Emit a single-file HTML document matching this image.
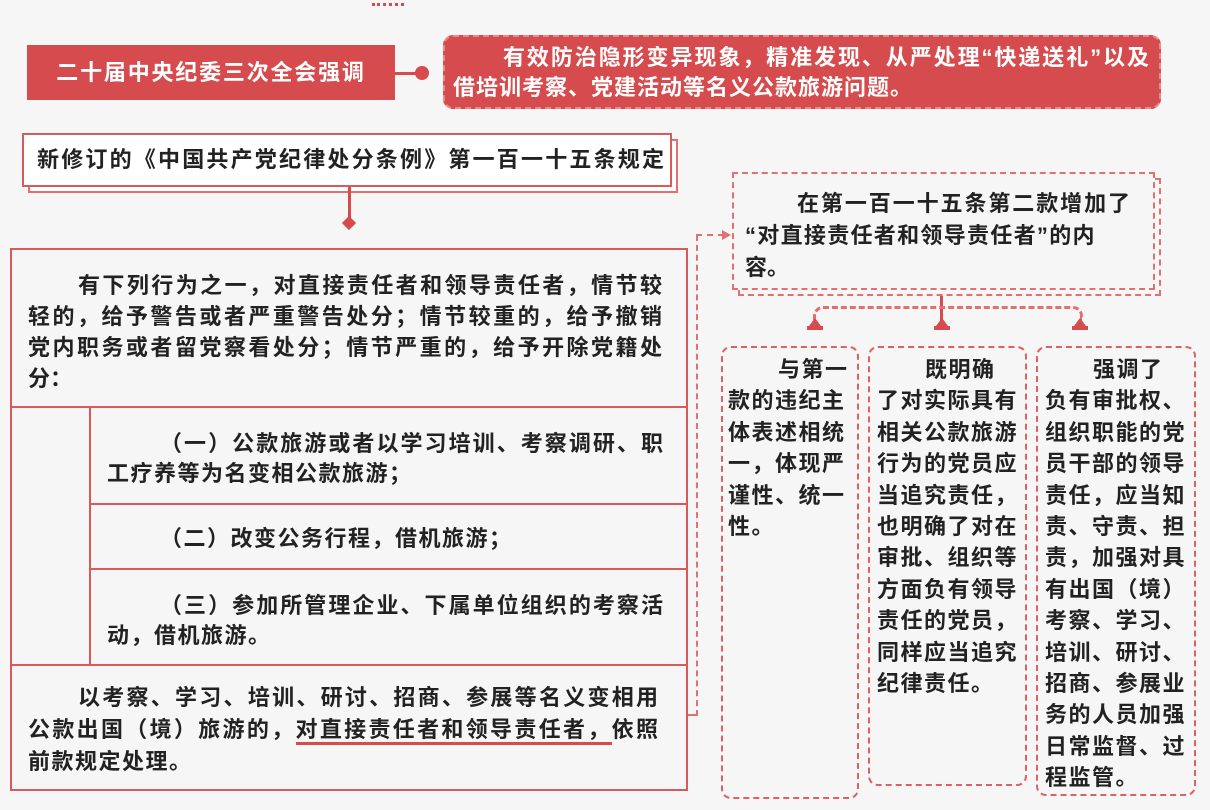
<!DOCTYPE html>
<html><head><meta charset="utf-8"><style>
*{margin:0;padding:0;box-sizing:border-box}
body{width:1210px;height:810px;background:#f6f6f6;position:relative;overflow:hidden;font-family:"Liberation Sans","Noto Sans CJK SC",sans-serif;font-weight:bold;color:#222}
.a{position:absolute}
.red{background:#d64b4d;color:#fff}
.cell{position:absolute;border:2px solid #d95a5c;font-size:22px;line-height:31px}
.col{position:absolute;border:2px dashed #df6062;border-radius:10px;font-size:22px;line-height:31.4px}
.j{text-align:justify;text-align-last:justify;white-space:nowrap}
.l{white-space:nowrap}
.txt{position:absolute}
</style></head><body>
<div class="a" style="left:372px;top:3px;width:32px;height:3px;border-top:3px dotted #d64b4d"></div>

<div class="a red" style="left:27px;top:45px;width:368px;height:55px;font-size:22px;line-height:55px;text-align:center;letter-spacing:1.8px">二十届中央纪委三次全会强调</div>
<div class="a" style="left:395px;top:72px;width:24px;height:3px;background:#d64b4d"></div>
<div class="a" style="left:415px;top:66px;width:14px;height:14px;border-radius:50%;background:#d64b4d"></div>
<div class="a red" style="left:443px;top:35px;width:718px;height:74px;border-radius:10px;border:2px dashed #e88a8b;font-size:22px;line-height:30px">
<div class="txt j" style="left:58px;top:6px;width:646px">有效防治隐形变异现象，精准发现、从严处理“快递送礼”以及</div>
<div class="txt l" style="left:8px;top:36px;letter-spacing:1px">借培训考察、党建活动等名义公款旅游问题。</div>
</div>

<div class="a" style="left:28px;top:139px;width:650px;height:54px;border:2px solid #e07072;background:#fff"></div>
<div class="a" style="left:22px;top:133px;width:650px;height:54px;border:2px solid #d95a5c;background:#fff;font-size:22px;line-height:50px">
<div class="txt j" style="left:13px;top:0;width:627px">新修订的《中国共产党纪律处分条例》第一百一十五条规定</div></div>
<div class="a" style="left:348px;top:187px;width:3px;height:32px;background:#d64b4d"></div>
<div class="a" style="left:344px;top:218px;width:10px;height:10px;background:#d64b4d;transform:rotate(45deg)"></div>

<div class="cell" style="left:10px;top:248px;width:678px;height:160px">
<div class="txt j" style="left:66px;top:20px;width:584px">有下列行为之一，对直接责任者和领导责任者，情节较</div>
<div class="txt j" style="left:16px;top:51px;width:634px">轻的，给予警告或者严重警告处分；情节较重的，给予撤销</div>
<div class="txt j" style="left:16px;top:82px;width:634px">党内职务或者留党察看处分；情节严重的，给予开除党籍处</div>
<div class="txt l" style="left:16px;top:113px">分：</div>
</div>
<div class="cell" style="left:10px;top:406px;width:81px;height:260px"></div>
<div class="cell" style="left:89px;top:406px;width:599px;height:99px">
<div class="txt j" style="left:69px;top:20px;width:503px">（一）公款旅游或者以学习培训、考察调研、职</div>
<div class="txt l" style="left:16px;top:50px;letter-spacing:1.5px">工疗养等为名变相公款旅游；</div>
</div>
<div class="cell" style="left:89px;top:503px;width:599px;height:67px">
<div class="txt l" style="left:69px;top:18px;letter-spacing:1.5px">（二）改变公务行程，借机旅游；</div>
</div>
<div class="cell" style="left:89px;top:568px;width:599px;height:98px">
<div class="txt j" style="left:69px;top:20px;width:503px">（三）参加所管理企业、下属单位组织的考察活</div>
<div class="txt l" style="left:16px;top:50px;letter-spacing:1.5px">动，借机旅游。</div>
</div>
<div class="cell" style="left:10px;top:664px;width:678px;height:127px;line-height:32px">
<div class="txt j" style="left:66px;top:16px;width:580px">以考察、学习、培训、研讨、招商、参展等名义变相用</div>
<div class="txt j" style="left:16px;top:48px;width:630px">公款出国（境）旅游的，<span style="border-bottom:3px solid #d64b4d">对直接责任者和领导责任者，</span>依照</div>
<div class="txt l" style="left:16px;top:80px;letter-spacing:1.5px">前款规定处理。</div>
</div>

<div class="a" style="left:688px;top:714px;width:10px;border-top:2px solid #e07072"></div>
<div class="a" style="left:696px;top:235px;height:481px;border-left:2px dashed #e07072"></div>
<div class="a" style="left:696px;top:234px;width:28px;border-top:2px dashed #e07072"></div>
<div class="a" style="left:722px;top:230px;width:0;height:0;border-left:9px solid #e07072;border-top:5px solid transparent;border-bottom:5px solid transparent"></div>

<div class="a" style="left:738px;top:178px;width:423px;height:118px;border:2px dashed #e07072"></div>
<div class="a" style="left:732px;top:172px;width:423px;height:118px;border:2px dashed #e07072;background:#f6f6f6;font-size:22px;line-height:32px">
<div class="txt j" style="left:63px;top:14px;width:333px">在第一百一十五条第二款增加了</div>
<div class="txt l" style="left:11px;top:46px;letter-spacing:1.3px">“对直接责任者和领导责任者”的内</div>
<div class="txt l" style="left:11px;top:78px">容。</div>
</div>

<div class="a" style="left:940px;top:296px;width:3px;height:30px;background:#d64b4d"></div>
<div class="a" style="left:813px;top:306px;width:270px;height:14px;border:3px dashed #e07072;border-bottom:none;border-radius:10px 10px 0 0"></div>
<div class="a" style="left:807px;top:318px;width:16px;height:12px;border-bottom:4px solid #d64b4d"><div style="margin:0 auto;width:0;border-left:6px solid transparent;border-right:6px solid transparent;border-bottom:8px solid #d64b4d"></div></div>
<div class="a" style="left:934px;top:318px;width:16px;height:12px;border-bottom:4px solid #d64b4d"><div style="margin:0 auto;width:0;border-left:6px solid transparent;border-right:6px solid transparent;border-bottom:8px solid #d64b4d"></div></div>
<div class="a" style="left:1072px;top:318px;width:16px;height:12px;border-bottom:4px solid #d64b4d"><div style="margin:0 auto;width:0;border-left:6px solid transparent;border-right:6px solid transparent;border-bottom:8px solid #d64b4d"></div></div>

<div class="col" style="left:721px;top:346px;width:138px;height:453px">
<div class="txt" style="left:55px;top:6px;letter-spacing:1.5px;line-height:31.4px;white-space:nowrap">与第一</div>
<div class="txt" style="left:5px;top:37.4px;width:124px;letter-spacing:1.5px;line-height:31.4px">款的违纪主体表述相统一，体现严谨性、统一性。</div>
</div>
<div class="col" style="left:868px;top:346px;width:159px;height:440px">
<div class="txt" style="left:55px;top:6px;letter-spacing:1.5px;white-space:nowrap">既明确</div>
<div class="txt" style="left:7px;top:37.4px;width:150px;letter-spacing:1.5px">了对实际具有相关公款旅游行为的党员应当追究责任，也明确了对在审批、组织等方面负有领导责任的党员，同样应当追究纪律责任。</div>
</div>
<div class="col" style="left:1036px;top:346px;width:160px;height:450px">
<div class="txt" style="left:55px;top:6px;letter-spacing:1.5px;white-space:nowrap">强调了</div>
<div class="txt" style="left:7px;top:37.4px;width:150px;letter-spacing:1.5px">负有审批权、组织职能的党员干部的领导责任，应当知责、守责、担责，加强对具有出国（境）考察、学习、培训、研讨、招商、参展业务的人员加强日常监督、过程监管。</div>
</div>
</body></html>
